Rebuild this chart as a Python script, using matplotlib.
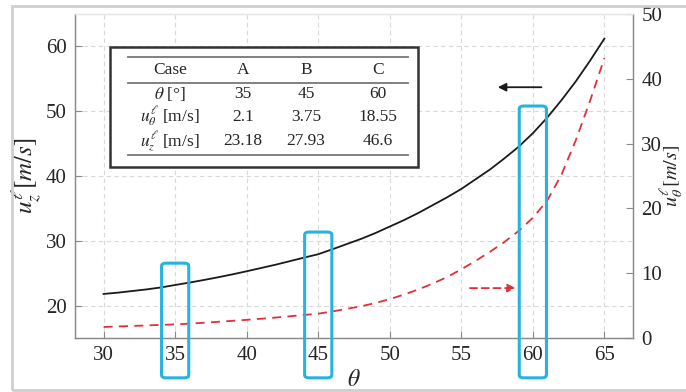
import matplotlib
matplotlib.use("Agg")
import matplotlib.pyplot as plt
import matplotlib.transforms as mtransforms
from matplotlib.patches import FancyBboxPatch, Rectangle

plt.rcParams['font.family'] = ['Liberation Serif', 'DejaVu Serif']
plt.rcParams['mathtext.fontset'] = 'stix'

# ---- data ----
theta = [30, 31, 32, 33, 34, 35, 36, 37, 38, 39, 40, 41, 42, 43, 44, 45, 46, 47, 48,
         49, 50, 51, 52, 53, 54, 55, 56, 57, 58, 59, 60, 61, 62, 63, 64, 65]
u_z = [21.8, 22.0, 22.25, 22.5, 22.8, 23.18, 23.55, 23.95, 24.37, 24.82, 25.3, 25.8,
       26.3, 26.85, 27.4, 27.93, 28.7, 29.5, 30.3, 31.2, 32.2, 33.2, 34.3, 35.5, 36.7,
       38.0, 39.5, 41.0, 42.7, 44.5, 46.6, 49.0, 51.7, 54.6, 57.8, 61.2]
u_theta = [1.7, 1.78, 1.86, 1.94, 2.02, 2.1, 2.22, 2.35, 2.5, 2.65, 2.8, 2.97, 3.15,
           3.35, 3.55, 3.75, 4.1, 4.5, 4.9, 5.4, 6.0, 6.7, 7.5, 8.4, 9.4, 10.6, 11.9,
           13.3, 14.8, 16.5, 18.55, 21.2, 25.2, 30.5, 36.6, 43.2]

x_ticks = [30, 35, 40, 45, 50, 55, 60, 65]
left_ticks = [20, 30, 40, 50, 60]
right_ticks = [0, 10, 20, 30, 40, 50]

table_cols = ["Case", "A", "B", "C"]
table_rows = [
    ["$\\theta$ [°]", "35", "45", "60"],
    ["$u_\\theta^\\ell$ [m/s]", "2.1", "3.75", "18.55"],
    ["$u_z^\\ell$ [m/s]", "23.18", "27.93", "46.6"],
]
highlight_cases = [35, 45, 60]

W, H = 686, 392
fig = plt.figure(figsize=(W / 100, H / 100), dpi=100)
ax = fig.add_axes([75 / W, 1 - 338 / H, (633 - 75) / W, (338 - 14) / H])
ax2 = ax.twinx()

spine_c = '#8a8a8a'
txt_c = '#262626'

ax.plot(theta, u_z, color='#1a1a1a', lw=1.3, zorder=3)
ax2.plot(theta, u_theta, color='#e0303a', lw=1.3, ls=(0, (5, 3.5)), zorder=3)

ax.set_xlim(28, 67)
ax.set_ylim(15, 65)
ax2.set_ylim(0, 50)
ax.set_xticks(x_ticks)
ax.set_yticks(left_ticks)
ax2.set_yticks(right_ticks)

ax.grid(True, color='#d9d9d9', ls=(0, (4, 3)), lw=0.8)
ax.set_axisbelow(True)

for a in (ax, ax2):
    for s in a.spines.values():
        s.set_color(spine_c)
        s.set_linewidth(0.9)
    a.tick_params(direction='in', length=5, width=0.8, color=spine_c,
                  labelsize=15, labelcolor=txt_c, pad=6)
ax.spines['top'].set_color('#e6e6e6')
ax2.spines['top'].set_color('#e6e6e6')

ax.set_xlabel("$\\theta$", fontsize=17, color=txt_c, labelpad=3)
ax.set_ylabel("$u_z^\\ell[m/s]$", fontsize=18, color=txt_c, labelpad=1)
ax2.set_ylabel("$u_\\theta^\\ell[m/s]$", fontsize=14.5, color=txt_c, rotation=90)
ax2.yaxis.set_label_coords((659 - 75) / 558, 0.5)

# cyan highlight boxes
trans = mtransforms.blended_transform_factory(ax.transData, ax.transAxes)
box_tops = [0.231, 0.327, 0.716]
for c, top in zip(highlight_cases, box_tops):
    p = FancyBboxPatch((c - 0.95, -0.123), 1.9, top + 0.123,
                       boxstyle="round,pad=0,rounding_size=0.3",
                       transform=trans, fill=False, ec='#27b3de', lw=2.2,
                       clip_on=False, zorder=5,
                       mutation_aspect=0.03)
    ax2.add_patch(p)

# arrows
ax.annotate("", xy=(57.55, 53.7), xytext=(60.6, 53.7),
            arrowprops=dict(arrowstyle='-|>', color='#1a1a1a', lw=1.3,
                            mutation_scale=12, shrinkA=0, shrinkB=0), zorder=6)
ax2.annotate("", xy=(58.8, 7.7), xytext=(55.6, 7.7),
             arrowprops=dict(arrowstyle='-|>', color='#e0303a', lw=1.3, ls=(0, (4, 2.5)),
                             mutation_scale=12, shrinkA=0, shrinkB=0), zorder=6)

# table
def fx(px):
    return px / W
def fy(py):
    return 1 - py / H

tbl = Rectangle((fx(110), fy(167)), fx(418) - fx(110), fy(47) - fy(167),
                transform=fig.transFigure, fc='white', ec='#333333', lw=1.8, zorder=10)
fig.patches.append(tbl)
for yl in (57, 83, 155):
    fig.add_artist(plt.Line2D([fx(128), fx(408)], [fy(yl), fy(yl)],
                              transform=fig.transFigure, color='#777777', lw=1.3, zorder=11))
col_x = [170, 243, 306, 378]
row_y = [70, 94, 117, 141]
for cx, t in zip(col_x, table_cols):
    fig.text(fx(cx), fy(row_y[0]), t, ha='center', va='center', fontsize=12.5, color=txt_c, zorder=12)
for ry, row in zip(row_y[1:], table_rows):
    for cx, t in zip(col_x, row):
        fig.text(fx(cx), fy(ry), t, ha='center', va='center', fontsize=12.5, color=txt_c, zorder=12)

# outer frame
fig.patches.append(Rectangle((fx(12), fy(390)), 1.0, fy(6) - fy(390),
                             transform=fig.transFigure, fill=False, ec='#cfcfcf', lw=2, zorder=0))

fig.savefig("out.png", dpi=100)
